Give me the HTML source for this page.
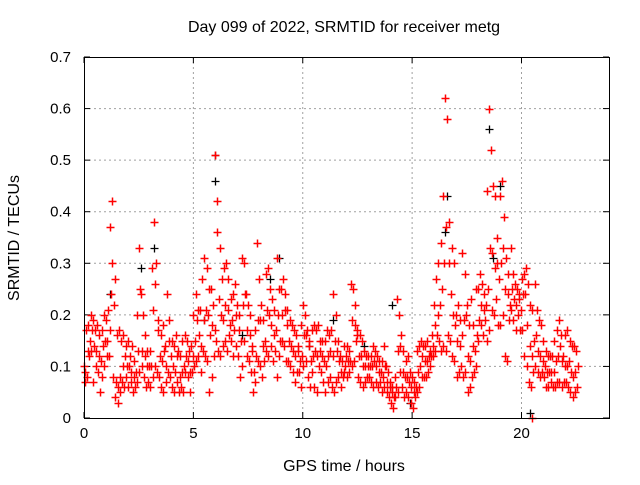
<!DOCTYPE html>
<html><head><meta charset="utf-8"><style>
body{margin:0;background:#fff;font-family:"Liberation Sans",sans-serif}
svg text{font-family:"Liberation Sans",sans-serif;font-size:15px;fill:#000}
svg text.big{font-size:16px}
</style></head><body>
<svg id="c" width="640" height="480"></svg>
<script>
const hA=[.10,.17,.18,.20,.19,.17,.18,.16,.17,.20,.19,.21,.37,.42,.27,.16,.17,.15,.16,.14,.15,.12,.14,.11,.20,.33,.24,.20,.16,.13,.13,.29,.38,.30,.17,.16,.18,.14,.24,.19,.15,.14,.16,.13,.12,.15,.16,.15,.13,.14,.20,.24,.21,.21,.27,.31,.29,.25,.25,.22,.51,.42,.33,.27,.29,.30,.27,.23,.24,.26,.22,.20,.31,.30,.24,.22,.20,.14,.17,.34,.27,.22,.19,.28,.29,.25,.23,.21,.31,.25,.25,.27,.24,.21,.19,.18,.17,.16,.14,.18,.22,.20,.17,.15,.17,.18,.17,.18,.15,.15,.15,.17,.16,.17,.24,.20,.15,.12,.11,.14,.14,.13,.26,.25,.22,.16,.16,.15,.13,.12,.12,.12,.14,.13,.12,.11,.11,.14,.10,.09,.07,.06,.08,.23,.20,.16,.13,.11,.12,.09,.08,.07,.13,.14,.15,.14,.14,.15,.13,.16,.22,.27,.30,.34,.43,.62,.58,.38,.33,.30,.20,.22,.19,.32,.28,.22,.18,.23,.18,.25,.25,.28,.26,.24,.44,.60,.52,.45,.43,.35,.43,.46,.39,.31,.28,.33,.28,.26,.25,.24,.27,.28,.29,.26,.22,.21,.26,.21,.19,.18,.15,.13,.12,.12,.12,.15,.17,.19,.16,.12,.16,.17,.15,.14,.14,.13];
const hB=[.07,.08,.12,.13,.07,.10,.09,.05,.08,.10,.12,.12,.24,.08,.04,.03,.05,.07,.06,.08,.06,.07,.05,.06,.07,.09,.10,.08,.06,.07,.06,.08,.10,.09,.08,.06,.05,.07,.09,.08,.06,.05,.07,.05,.06,.05,.09,.08,.05,.09,.10,.11,.12,.09,.13,.12,.11,.05,.08,.12,.15,.13,.12,.14,.15,.13,.16,.15,.12,.14,.12,.08,.10,.15,.12,.11,.09,.05,.07,.11,.10,.08,.11,.13,.12,.14,.11,.13,.08,.12,.15,.14,.11,.11,.10,.09,.07,.09,.09,.06,.10,.11,.08,.06,.09,.06,.05,.10,.09,.07,.05,.07,.08,.06,.05,.07,.08,.06,.08,.10,.08,.09,.10,.11,.15,.08,.07,.06,.07,.08,.08,.07,.06,.07,.06,.07,.05,.06,.05,.04,.03,.02,.04,.05,.09,.06,.04,.05,.04,.03,.02,.04,.05,.06,.08,.08,.08,.09,.10,.12,.13,.16,.15,.13,.14,.13,.16,.15,.12,.11,.08,.09,.10,.08,.09,.05,.06,.08,.09,.10,.15,.18,.16,.19,.15,.17,.21,.20,.23,.18,.18,.20,.12,.11,.19,.21,.19,.17,.20,.17,.17,.12,.10,.07,.06,.09,.10,.09,.08,.09,.08,.06,.06,.07,.06,.06,.07,.07,.06,.07,.07,.06,.05,.04,.05,.06];
const hC=[.09,.13,.15,.17,.14,.13,.12,.11,.14,.15,.15,.17,.30,.22,.07,.06,.08,.10,.12,.10,.10,.09,.08,.09,.13,.25,.13,.12,.10,.10,.10,.21,.26,.19,.12,.11,.13,.10,.15,.12,.10,.09,.12,.08,.09,.10,.12,.11,.09,.12,.15,.19,.16,.14,.19,.21,.20,.16,.18,.17,.36,.23,.20,.19,.22,.21,.18,.19,.17,.20,.17,.15,.22,.24,.17,.16,.13,.09,.12,.19,.19,.14,.15,.21,.20,.18,.16,.17,.20,.15,.20,.21,.18,.15,.14,.13,.12,.13,.11,.12,.16,.16,.14,.11,.12,.13,.12,.13,.12,.11,.10,.12,.13,.12,.15,.13,.11,.09,.09,.12,.11,.11,.19,.18,.17,.12,.12,.10,.10,.10,.10,.10,.11,.10,.09,.09,.08,.10,.07,.06,.05,.04,.06,.13,.14,.09,.08,.08,.07,.06,.05,.06,.09,.10,.12,.11,.11,.12,.12,.14,.18,.20,.22,.25,.30,.37,.30,.24,.20,.18,.15,.14,.16,.19,.20,.12,.11,.14,.13,.16,.19,.22,.21,.22,.25,.33,.32,.29,.30,.27,.30,.33,.25,.24,.22,.25,.23,.22,.23,.21,.24,.24,.18,.14,.12,.15,.16,.13,.12,.11,.10,.09,.09,.09,.09,.11,.12,.14,.11,.10,.10,.11,.09,.08,.09,.10];
const blackT=[1.2,2.6,3.2,6.0,6.0,8.5,8.9,11.4,14.1,14.9,16.5,16.6,18.5,19.0,18.7,20.4,7.2,10.3,12.8,5.5];
const blackV=[.24,.29,.33,.51,.46,.27,.31,.19,.22,.03,.36,.43,.56,.45,.31,.01,.16,.14,.14,.19];
const xTicks=[0,5,10,15,20];
const yTicks=[0,0.1,0.2,0.3,0.4,0.5,0.6,0.7];
const L=84,R=609,T=57,B=418,XMAX=24,YMAX=0.7;
const X=t=>L+(R-L)*t/XMAX, Y=v=>B-(B-T)*v/YMAX;
const svg=document.getElementById('c');const NS='http://www.w3.org/2000/svg';
function mk(tag,attrs,parent){const e=document.createElementNS(NS,tag);for(const k in attrs)e.setAttribute(k,attrs[k]);(parent||svg).appendChild(e);return e;}
const grid=mk('g',{});


xTicks.forEach(t=>{
 if(t>0){mk('line',{x1:X(t),x2:X(t),y1:T,y2:B,stroke:'#a0a0a0','stroke-dasharray':'2,3','stroke-width':1},grid);}
 mk('line',{x1:X(t),x2:X(t),y1:B,y2:B-6,stroke:'#000'});mk('line',{x1:X(t),x2:X(t),y1:T,y2:T+6,stroke:'#000'});
 const tx=mk('text',{x:X(t),y:B+20,'text-anchor':'middle'});tx.textContent=t;
 
 
});
yTicks.forEach(v=>{
 if(v>0&&v<0.7){mk('line',{x1:L,x2:R,y1:Y(v),y2:Y(v),stroke:'#a0a0a0','stroke-dasharray':'2,3','stroke-width':1},grid);}
 mk('line',{x1:L,x2:L+6,y1:Y(v),y2:Y(v),stroke:'#000'});mk('line',{x1:R,x2:R-6,y1:Y(v),y2:Y(v),stroke:'#000'});
 const tx=mk('text',{x:L-13,y:Y(v)+5,'text-anchor':'end'});tx.textContent=v===0?'0':v.toFixed(1);
 
 
});
function plus(t,v,g){const x=Math.round(X(t))+0.5,y=Math.round(Y(v))+0.5;mk('path',{d:`M${x-4} ${y}h8M${x} ${y-4}v8`},g);}
const blk=mk('g',{stroke:'#000','stroke-width':1.3});


blackT.forEach((t,i)=>plus(t,blackV[i],blk));
const pts=mk('g',{stroke:'#f00','stroke-width':1.5});


[[hA,0],[hB,0.033],[hC,0.066]].forEach(([arr,off])=>arr.forEach((v,i)=>plus(i*0.1+off,v,pts)));
plus(20.5,0.0,pts);
mk('rect',{x:L+0.5,y:T+0.5,width:R-L,height:B-T,fill:'none',stroke:'#000'});
const title=mk('text',{x:344,y:32,'text-anchor':'middle',class:'big'});title.textContent='Day 099 of 2022, SRMTID for receiver metg';


const xt=mk('text',{x:344,y:471,'text-anchor':'middle',class:'big'});xt.textContent='GPS time / hours';


const yt=mk('text',{x:0,y:0,'text-anchor':'middle',class:'big',transform:'translate(19,238) rotate(-90)'});yt.textContent='SRMTID / TECUs';


</script>
</body></html>
